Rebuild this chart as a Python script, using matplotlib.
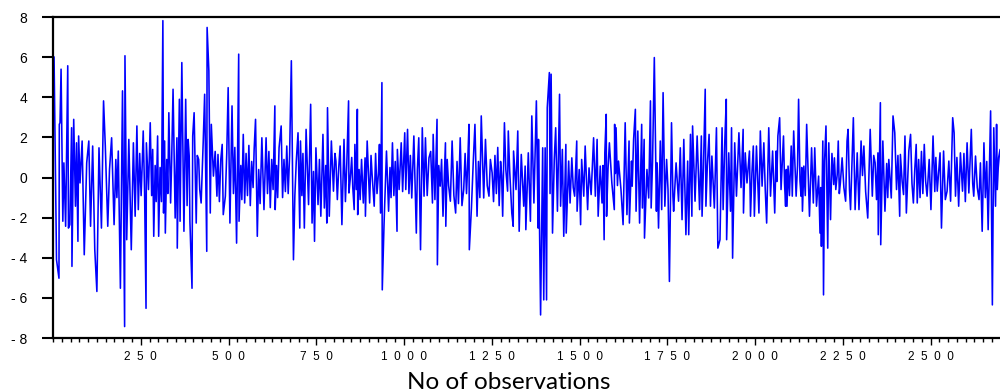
import numpy as np
import matplotlib.pyplot as plt
from matplotlib.ticker import MultipleLocator, FixedLocator

obs_a = [3, 10, 17, 18, 20, 23, 28, 31, 36, 42, 44, 48, 53, 54, 59, 64, 67, 71, 73, 77, 83, 89, 96, 102, 107, 113, 119, 125, 131, 138,
         144, 149, 156, 161, 167, 174, 179, 182, 186, 192, 198, 204, 205, 210, 216, 223, 229, 234, 239, 243, 247, 251, 254, 257, 261, 265, 266, 272, 277, 281,
         284, 287, 291, 294, 298, 301, 305, 309, 313, 315, 318, 320, 324, 327, 330, 335, 338, 342, 348, 353, 354, 360, 362, 367, 373, 378, 382, 385, 388, 390,
         396, 398, 402, 408, 411, 415, 418, 422, 428, 432, 438, 439, 444, 448, 451, 457, 462, 467, 470, 474, 478, 482, 485, 491, 495, 499, 504, 510, 514, 518,
         523, 529, 530, 535, 538, 542, 546, 550, 554, 558, 562, 566, 570, 573, 577, 582, 586, 590, 595, 601, 607, 611, 615, 619, 623, 627, 632, 633, 637, 640, 644]
ret_a = [6.00, -4.10, -5.02, 2.65, 2.73, 5.40, -2.18, 0.73, -2.43, 5.57, -2.52, -2.35, 2.48, -4.43, 2.90, -1.43, 1.73, -3.18, 2.07, -0.27, 1.82, -3.85, 0.73, 1.82, -2.43, 1.57, -3.60, -5.68, 1.48, -2.52,
         3.82, 1.57, -2.43, 0.4, 1.98, -2.35, 0.9, -1.0, 1.32, -5.52, 4.32, -7.43, 6.07, -3.10, 1.90, -3.60, 1.73, -1.93, 2.57, -1.60, 1.2, -0.9, 0.6, 2.32, -0.8, -6.52, 1.73, -0.60, 2.73, -0.9,
         1.4, -2.93, 0.6, -1.2, 2.07, -2.93, 0.5, -1.2, 7.82, -1.77, 1.82, -2.77, 0.9, -0.8, 3.23, -1.27, 0.8, 4.40, -2.02, 1.98, -3.52, 3.90, -2.18, 5.73, -2.68, 3.90, -1.4, 1.9, 1.07, -2.18,
         -5.52, 2.07, 3.23, -2.27, 1.1, 0.90, -0.6, -1.27, 1.82, 4.15, -3.68, 7.48, 5.32, -1.77, 2.65, 0.07, 1.3, -0.93, 1.15, -1.2, 0.9, 1.65, -1.85, -0.93, 1.2, 4.48, -2.27, 3.57, -0.8, 1.5,
         -3.27, 6.15, -2.18, 0.6, -1.1, 2.15, -1.27, 1.2, -0.9, 1.6, -1.4, 0.8, -0.5, 1.4, 2.90, -2.93, 0.4, -1.3, 1.98, -1.60, 1.98, -0.8, 1.3, -1.5, 0.9, -0.6, 3.57, -1.60, 0.6, -1.0, 1.48]

obs_b = [650, 654, 658, 662, 666, 670, 674, 679, 685, 689, 693, 698, 703, 705, 709, 712, 716, 721, 728, 734, 738, 742, 745, 749, 755, 759, 763, 769, 773, 777,
         780, 782, 787, 793, 799, 803, 806, 810, 814, 818, 823, 829, 833, 837, 842, 843, 847, 851, 854, 858, 860, 864, 867, 868, 872, 875, 879, 884, 889, 890,
         895, 902, 906, 909, 915, 919, 923, 927, 930, 933, 937, 938, 943, 950, 956, 960, 963, 967, 971, 975, 980, 981, 986, 992, 996, 1002, 1005, 1010, 1014, 1018,
         1022, 1028, 1035, 1038, 1042, 1047, 1052, 1057, 1061, 1066, 1071, 1076, 1081, 1083, 1088, 1094, 1095, 1099, 1103, 1107, 1111, 1118, 1119, 1123, 1127, 1132, 1137, 1142, 1147, 1151,
         1155, 1160, 1165, 1170, 1174, 1178, 1181, 1185, 1186, 1192, 1197, 1202, 1208, 1212, 1216, 1220, 1227, 1232, 1237, 1242, 1246, 1251, 1255, 1259, 1263, 1267, 1271, 1275, 1278, 1281,
         1286, 1290, 1295]
ret_b = [2.57, -1.0, 0.9, -0.7, 1.57, -0.8, 1.1, 5.82, -4.10, -0.9, 0.8, 2.23, -2.52, 1.82, -0.9, 1.2, -2.52, 2.40, -1.35, 3.65, -2.27, 0.3, -3.18, 1.48, -1.35, 0.9, -1.93, 2.15, -1.52, 0.6,
         -2.27, 3.48, -1.93, 1.82, -0.68, 1.2, 0.82, -1.1, 0.5, 1.57, -2.35, 1.90, -1.2, 0.7, 3.82, -0.77, -0.02, 1.0, -0.5, -1.60, 1.65, -0.6, 3.40, -1.85, 0.4, -1.1, 0.90, -1.27, 0.98, -1.93,
         1.82, -1.27, 1.1, 0.15, -1.43, 1.2, -0.8, 0.2, 1.65, -1.77, 4.73, -5.60, -2.35, 1.32, -1.68, 0.5, -1.0, 1.73, -0.9, 0.8, -2.68, 1.40, -0.60, 1.73, -0.7, 2.23, -0.60, 2.40, -0.8, 1.1,
         -1.02, 2.07, -2.77, 0.40, 1.98, -3.60, 2.48, -0.93, 1.98, -0.9, 0.98, 1.3, -1.27, 2.15, -1.1, 2.90, -4.35, 0.6, -0.43, 0.9, -1.93, 1.73, -2.43, 0.9, -0.4, -1.18, 1.82, -0.9, -1.77, 0.8,
         -1.3, 1.98, -1.4, -0.60, 1.2, -0.8, 0.5, 2.65, -3.60, -1.52, 0.7, 2.65, -1.93, 0.8, -1.0, 3.07, -1.02, 1.90, -0.4, -0.93, 0.9, 0.23, -1.2, 1.1, -0.8, 1.5, -1.4, 0.8, 0.1, -1.93,
         2.73, 0.4, -0.68]

obs_c = [1297, 1301, 1307, 1311, 1312, 1319, 1324, 1328, 1334, 1341, 1345, 1347, 1354, 1360, 1364, 1370, 1377, 1382, 1383, 1389, 1395, 1398, 1402, 1406, 1408, 1414, 1416, 1419, 1423, 1428,
         1432, 1437, 1443, 1446, 1451, 1455, 1461, 1462, 1469, 1473, 1478, 1482, 1486, 1492, 1493, 1499, 1503, 1506, 1512, 1516, 1523, 1527, 1533, 1540, 1545, 1550, 1553, 1559, 1564, 1567,
         1570, 1572, 1576, 1577, 1581, 1585, 1592, 1599, 1600, 1602, 1604, 1608, 1611, 1618, 1624, 1628, 1630, 1635, 1641, 1642, 1648, 1650, 1654, 1659, 1661, 1666, 1671, 1677, 1679, 1684,
         1685, 1692, 1697, 1702, 1704, 1708, 1713, 1719, 1721, 1725, 1730, 1734, 1738, 1743, 1748, 1752, 1756, 1762, 1766, 1768, 1775, 1782, 1787, 1792, 1797, 1803, 1808, 1811, 1816, 1820,
         1822, 1829, 1835, 1842, 1847, 1849, 1853, 1858, 1860, 1864, 1869, 1873, 1877, 1884, 1890, 1894, 1900, 1906, 1909, 1914, 1918, 1919, 1925, 1930, 1933, 1936, 1942, 1947, 1954, 1960]
ret_c = [2.32, 0.32, -1.77, -2.43, 1.32, -0.60, 2.32, -2.68, 1.15, -1.43, 0.57, -2.60, 1.23, -2.18, 3.07, -1.27, 3.82, -2.52, 1.90, -6.85, 1.48, -6.10, 1.48, -6.10, 3.48, 5.23, -0.8, 5.15, -2.77, 0.9,
         2.48, -1.68, 4.15, -1.43, 1.40, -2.93, 1.65, -2.77, 0.82, -1.27, 0.98, -0.5, -0.93, 1.82, -1.68, 0.40, -2.35, 0.90, -0.93, 1.57, -1.60, 0.48, -0.85, 1.98, -0.93, 1.90, -1.93, 0.57, -1.27, 0.6,
         -3.10, 1.23, 3.15, -1.93, 0.4, 1.73, -0.27, -1.60, 2.65, 0.2, 2.48, -0.4, 0.82, -0.60, -2.35, 1.07, 2.73, -1.85, 1.82, -2.27, 0.82, -0.43, 1.90, 3.40, -1.68, 2.32, -2.27, 2.65, -1.52, 1.90,
         -3.02, 0.40, -1.02, 3.82, -1.52, 0.8, 5.98, -1.68, 0.73, -2.52, 1.82, -1.60, 4.23, -1.43, 0.90, -0.6, -5.18, 2.73, -0.93, -1.68, 0.73, -1.18, 1.48, -2.10, 1.90, -2.85, 0.82, -2.85, 2.15, -1.93,
         2.57, -1.18, 2.07, -1.60, 2.07, -1.93, 0.5, 4.40, -1.43, 0.6, 2.15, -1.43, 1.07, -1.52, 2.48, -3.52, -3.10, 2.48, -1.60, 1.90, 3.90, -3.10, 1.23, -1.68, 2.48, -4.02, 1.73, -0.93, 2.23, -0.5]

obs_d = [1966, 1967, 1972, 1977, 1984, 1987, 1991, 1995, 1998, 2004, 2011, 2015, 2020, 2025, 2029, 2033, 2039, 2044, 2050, 2056, 2060, 2062, 2065, 2070, 2074, 2081, 2084, 2087, 2089, 2091,
         2094, 2098, 2103, 2106, 2110, 2117, 2121, 2124, 2128, 2131, 2133, 2135, 2139, 2143, 2147, 2152, 2155, 2161, 2166, 2170, 2175, 2181, 2185, 2187, 2189, 2193, 2195, 2198, 2202, 2207,
         2210, 2215, 2219, 2224, 2226, 2230, 2234, 2237, 2240, 2243, 2248, 2253, 2258, 2262, 2265, 2269, 2272, 2276, 2280, 2285, 2291, 2296, 2302, 2306, 2310, 2315, 2321, 2325, 2328, 2334,
         2338, 2342, 2346, 2350, 2351, 2357, 2358, 2364, 2370, 2375, 2378, 2381, 2388, 2393, 2398, 2403, 2407, 2412, 2414, 2419, 2423, 2427, 2431, 2438, 2443, 2447, 2451, 2455, 2459, 2462,
         2466, 2470, 2474, 2478, 2482, 2486, 2490, 2496, 2501, 2507, 2512, 2515, 2519, 2523, 2527, 2531, 2537, 2542, 2547, 2552, 2557, 2563, 2567, 2571, 2575, 2580, 2585, 2591, 2595, 2599,
         2604, 2609, 2616, 2620, 2623, 2628, 2633, 2638, 2642, 2647, 2652, 2656, 2660, 2664, 2671, 2676, 2680, 2685, 2688, 2690, 2694, 2698, 2702]
ret_d = [2.40, -1.77, 1.23, -0.27, 1.32, -1.93, 0.2, 1.57, -1.93, 1.57, -1.77, 2.32, -0.43, 1.73, -0.6, -2.27, 2.48, -0.93, 1.32, -1.77, 1.32, -0.2, 2.07, 2.98, -0.60, 2.07, -0.3, -1.43, 0.4, -1.43,
         0.57, -0.9, 1.57, -0.93, 2.32, -0.93, 0.6, 3.90, -0.18, -0.93, 0.5, -1.68, 0.57, -0.9, 2.65, -0.27, -1.93, 1.48, -1.27, 1.48, -1.43, 0.07, -2.77, -0.5, -3.43, 1.82, -5.85, 0.82, 2.57, -3.52,
         1.73, -2.10, 1.2, -0.35, 0.98, -0.6, 0.15, 1.82, -0.8, -0.27, 0.98, -0.5, -1.18, 1.82, 2.40, -0.6, -1.60, 0.7, 2.98, -1.60, 1.23, -1.60, 1.82, 0.1, 1.57, -0.7, -2.02, 0.5, 2.40, -0.93,
         1.1, 0.73, -1.1, 1.23, -2.85, 3.73, -3.35, 1.82, -1.68, 0.7, -1.0, 0.90, -1.02, 3.07, 2.23, -0.6, 1.1, -1.93, 1.15, -0.2, -0.85, 2.07, -1.77, 1.32, 2.15, -0.3, -1.27, 0.4, 1.65, -1.27,
         0.9, -1.0, 1.3, -0.8, 1.65, -0.2, -0.93, 0.90, -1.60, 2.07, -0.7, 1.0, -0.68, 0.3, 1.23, -2.52, 1.32, -1.1, -0.68, 0.82, -1.18, 2.98, 2.23, -0.93, 1.0, -1.43, 1.23, -0.68, 1.2, -1.2,
         1.73, -0.77, 2.40, -0.3, -0.93, 1.07, -0.5, -1.10, 0.73, -2.68, 1.73, -1.0, 0.8, -2.60, 3.32, -6.35, 2.48, -1.43, 2.65, -0.60, 1.0, 1.40, -0.4]

x_ticks = [250, 500, 750, 1000, 1250, 1500, 1750, 2000, 2250, 2500]
y_ticks = [-8, -6, -4, -2, 0, 2, 4, 6, 8]

obs = np.array(obs_a + obs_b + obs_c + obs_d)
ret = np.array(ret_a + ret_b + ret_c + ret_d)

fig = plt.figure(figsize=(10, 3.91), dpi=100)
ax = fig.add_axes([0.053, 0.1355, 0.952, 0.821])
ax.plot(obs, ret, color='#0000FF', lw=1.15)

ax.set_xlim(0, 2712)
ax.set_ylim(-8, 8)

for s in ['left', 'bottom', 'top']:
    ax.spines[s].set_linewidth(1.6)
ax.spines['right'].set_visible(False)

ax.xaxis.set_major_locator(FixedLocator(x_ticks))
ax.xaxis.set_minor_locator(MultipleLocator(25))
ax.set_xticklabels(['  '.join(str(t)) for t in x_ticks], fontsize=8.5, family='Liberation Sans')
ax.set_yticks(y_ticks)
ax.set_yticklabels([('- ' + str(-t)) if t < 0 else str(t) for t in y_ticks], fontsize=10, family='Liberation Sans')

ax.tick_params(axis='y', length=8, width=1.5, pad=10.5)
ax.tick_params(axis='x', which='major', length=5, width=1.0, pad=4.5)
ax.tick_params(axis='x', which='minor', length=3, width=1.0)

fig.text(0.509, 0.005, 'No of observations', ha='center', va='baseline', fontsize=17.5, family='Lato')

plt.savefig('out.png', dpi=100)
